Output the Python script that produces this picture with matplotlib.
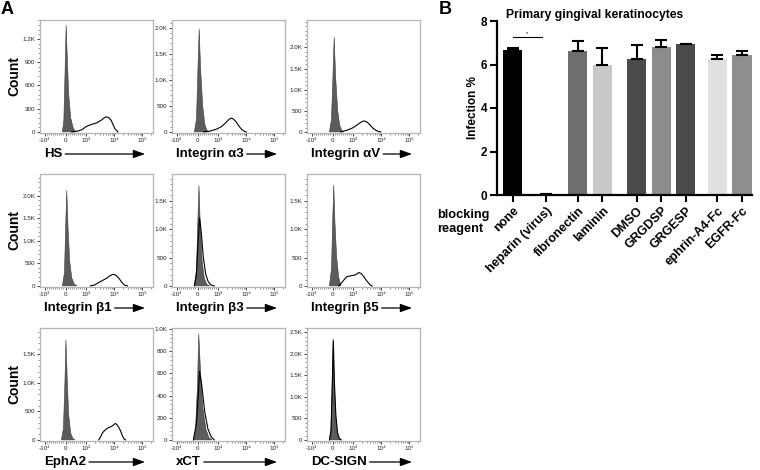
import numpy as np
import matplotlib.pyplot as plt
from matplotlib.ticker import FixedLocator, AutoMinorLocator

plt.rcParams['font.family'] = ['Liberation Sans', 'DejaVu Sans']

W, H = 760, 470

# ---------------- panel A data (fluorescence, count) ----------------
markers = ['HS', 'Integrin α3', 'Integrin αV',
           'Integrin β1', 'Integrin β3', 'Integrin β5',
           'EphA2', 'xCT', 'DC-SIGN']

hs_iso_x = [-150, -80, -20, 30, 80, 150, 250, 380, 500]
hs_iso_y = [0, 150, 800, 1380, 1000, 500, 180, 40, 0]
hs_x = [300, 600, 800, 1000, 1500, 2300, 3400, 4500, 5200, 6500, 7700, 9000, 10500, 13500]
hs_y = [0, 10, 30, 70, 95, 115, 150, 185, 195, 180, 150, 95, 40, 0]

a3_iso_x = [-150, -50, 20, 80, 150, 250, 350, 450, 550]
a3_iso_y = [0, 250, 1200, 1980, 1200, 500, 150, 30, 0]
a3_x = [300, 600, 900, 1300, 1800, 2400, 2900, 3500, 4500, 5500, 7000, 9000, 10000]
a3_y = [0, 15, 50, 100, 170, 240, 265, 245, 180, 110, 40, 5, 0]

av_iso_x = [-150, -50, 20, 80, 150, 250, 350, 450, 550]
av_iso_y = [0, 300, 1300, 2250, 1300, 500, 150, 30, 0]
av_x = [400, 700, 1000, 1400, 1900, 2400, 3000, 4000, 5000, 6500, 8000, 9500]
av_y = [0, 40, 100, 170, 230, 260, 240, 160, 90, 35, 8, 0]

b1_iso_x = [-150, -50, 20, 60, 120, 200, 300, 420, 550]
b1_iso_y = [0, 300, 1500, 2120, 1300, 550, 180, 40, 0]
b1_x = [1400, 2000, 2500, 3300, 4200, 5500, 7000, 9100, 11500, 14500, 18000, 22000, 26000, 29500]
b1_y = [0, 20, 60, 100, 135, 175, 225, 258, 235, 170, 90, 25, 5, 0]

b3_iso_x = [-150, -50, 20, 70, 130, 220, 330, 450, 580]
b3_iso_y = [0, 300, 1200, 1780, 1100, 450, 130, 25, 0]
b3_x = [-150, -50, 30, 100, 180, 280, 400, 520, 650, 800]
b3_y = [0, 200, 800, 1200, 950, 500, 200, 70, 15, 0]

b5_iso_x = [-150, -50, 20, 60, 120, 200, 300, 400]
b5_iso_y = [0, 300, 1300, 1785, 1100, 500, 150, 0]
b5_x = [300, 450, 550, 700, 900, 1100, 1380, 1580, 1900, 2360, 2900, 3560, 4100, 4700]
b5_y = [0, 60, 106, 165, 180, 190, 215, 236, 220, 165, 100, 47, 12, 0]

epha2_iso_x = [-200, -100, -30, 20, 80, 150, 250, 350, 450]
epha2_iso_y = [0, 200, 1000, 1760, 1100, 450, 120, 25, 0]
epha2_x = [2800, 3300, 3700, 4500, 5600, 7000, 8400, 9800, 11000, 12800, 14500, 17000, 19000, 22000, 25000]
epha2_y = [0, 60, 117, 165, 204, 225, 245, 270, 290, 260, 217, 150, 82, 20, 0]

xct_iso_x = [-200, -100, 0, 60, 150, 250, 400, 550, 700]
xct_iso_y = [0, 80, 500, 960, 600, 300, 100, 20, 0]
xct_x = [-200, -50, 50, 100, 200, 350, 500, 650, 800]
xct_y = [0, 150, 450, 620, 500, 250, 100, 30, 0]

dc_iso_x = [-150, -80, -20, 30, 80, 150, 230, 320, 400]
dc_iso_y = [0, 200, 1200, 2350, 1400, 600, 180, 30, 0]
dc_x = [-150, -70, -10, 40, 90, 160, 240, 330, 420]
dc_y = [0, 220, 1300, 2300, 1350, 580, 170, 30, 0]

count_max = [1445, 2150, 2650, 2480, 1980, 1980, 1965, 1011, 2600]
count_ticks = [[0, 300, 600, 900, 1200],
               [0, 500, 1000, 1500, 2000],
               [0, 500, 1000, 1500, 2000],
               [0, 500, 1000, 1500, 2000],
               [0, 500, 1000, 1500],
               [0, 500, 1000, 1500],
               [0, 500, 1000, 1500],
               [0, 200, 400, 600, 800, 1000],
               [0, 500, 1000, 1500, 2000, 2500]]

fl_ticks = [-1000, 0, 1000, 10000, 100000]
fl_labels = ['-10³', '0', '10³', '10⁴', '10⁵']

# ---------------- panel B data ----------------
reagents = ['none', 'heparin (virus)', 'fibronectin', 'laminin', 'DMSO',
            'GRGDSP', 'GRGESP', 'ephrin-A4-Fc', 'EGFR-Fc']
infection = [6.68, 0.04, 6.62, 5.99, 6.27, 6.80, 6.93, 6.24, 6.42]
infection_err = [0.06, 0.0, 0.46, 0.77, 0.63, 0.33, 0.03, 0.21, 0.20]

iso_curves = [(hs_iso_x, hs_iso_y), (a3_iso_x, a3_iso_y), (av_iso_x, av_iso_y),
              (b1_iso_x, b1_iso_y), (b3_iso_x, b3_iso_y), (b5_iso_x, b5_iso_y),
              (epha2_iso_x, epha2_iso_y), (xct_iso_x, xct_iso_y), (dc_iso_x, dc_iso_y)]
stain_curves = [(hs_x, hs_y), (a3_x, a3_y), (av_x, av_y),
                (b1_x, b1_y), (b3_x, b3_y), (b5_x, b5_y),
                (epha2_x, epha2_y), (xct_x, xct_y), (dc_x, dc_y)]


def fmt_count(v):
    if v >= 1000:
        return f'{v / 1000:.1f}K'
    return str(v)


fig = plt.figure(figsize=(W / 100, H / 100), dpi=100)


def px_axes(left, top, w, h):
    return fig.add_axes([left / W, 1 - (top + h) / H, w / W, h / H])


col_left = [40, 172, 307]
row_top = [20, 174, 328]
box = 113

minor_fl = ([-m * 1000 for m in range(2, 10)] + [-m * 100 for m in range(1, 10)]
            + [m * 100 for m in range(1, 10)]
            + [m * 10 ** k for k in (3, 4) for m in range(2, 10)] + [200000])

xlabels = []
for i in range(9):
    r, c = divmod(i, 3)
    ax = px_axes(col_left[c], row_top[r], box, box)
    ax.set_xscale('symlog', linthresh=1000, linscale=0.666)
    ix, iy = iso_curves[i]
    sx, sy = stain_curves[i]
    ax.fill(ix, iy, color='#5c5c5c', lw=0.4, ec='#3a3a3a', zorder=2)
    ax.plot(sx, sy, color='black', lw=0.8, zorder=3)
    ax.set_xlim(-1480, 240000)
    ax.set_ylim(-count_max[i] * 0.01, count_max[i])
    ax.set_xticks(fl_ticks)
    ax.set_xticklabels(fl_labels)
    ax.xaxis.set_minor_locator(FixedLocator(minor_fl))
    ax.set_yticks(count_ticks[i])
    ax.set_yticklabels([fmt_count(v) for v in count_ticks[i]])
    ax.yaxis.set_minor_locator(AutoMinorLocator(5))
    ax.tick_params(which='major', direction='out', length=2.5, width=0.6,
                   labelsize=4.5, pad=1.0, color='#222222', labelcolor='#222222')
    ax.tick_params(which='minor', direction='out', length=1.3, width=0.4, color='#444444')
    for s in ax.spines.values():
        s.set_color('#b5b5b5')
        s.set_linewidth(0.9)
    t = fig.text((col_left[c] + 4) / W, 1 - (row_top[r] + box + 21) / H, markers[i],
                 fontsize=9.5, fontweight='bold', ha='left', va='center')
    xlabels.append((t, col_left[c] + box - 8, row_top[r] + box + 21))

for r in range(3):
    fig.text(14 / W, 1 - (row_top[r] + box / 2) / H, 'Count', rotation=90,
             fontsize=10, fontweight='bold', ha='center', va='center')

fig.canvas.draw()
renderer = fig.canvas.get_renderer()
for t, x_end, y_px in xlabels:
    bb = t.get_window_extent(renderer)
    y = H - y_px
    fig.add_artist(plt.Annotation('', xy=(x_end, y), xytext=(bb.x1 + 3, y),
                                  xycoords='figure pixels', textcoords='figure pixels',
                                  arrowprops=dict(arrowstyle='-|>,head_length=0.7,head_width=0.25',
                                                  color='black', lw=0.9, shrinkA=0, shrinkB=0)))

fig.text(7 / W, 1 - 10 / H, 'A', fontsize=13, fontweight='bold', ha='center', va='center')
fig.text(445 / W, 1 - 10 / H, 'B', fontsize=13, fontweight='bold', ha='center', va='center')

# ---------------- panel B ----------------
bar_pos = [0, 1.35, 2.65, 3.65, 5.05, 6.05, 7.05, 8.35, 9.35]
bar_colors = ['#000000', '#303030', '#6e6e6e', '#c8c8c8', '#4a4a4a',
              '#8c8c8c', '#4a4a4a', '#e0e0e0', '#8e8e8e']

axb = px_axes(497, 21, 255, 174)
axb.bar(bar_pos, infection, width=0.78, color=bar_colors, zorder=2)
axb.errorbar(bar_pos, infection, yerr=[np.zeros(len(infection)), infection_err],
             fmt='none', ecolor='black', elinewidth=1.5, capsize=4, capthick=1.5, zorder=3)
axb.plot([bar_pos[0], bar_pos[1] - 0.17], [7.26, 7.26], color='black', lw=0.8)
axb.text((bar_pos[0] + bar_pos[1] - 0.17) / 2, 7.3, '*', fontsize=4, ha='center', va='bottom')
axb.set_xlim(-0.65, 9.76)
axb.set_ylim(0, 8)
axb.set_yticks([0, 2, 4, 6, 8])
axb.set_xticks(bar_pos)
axb.set_xticklabels(reagents, rotation=45, ha='right', rotation_mode='anchor',
                    fontweight='bold', fontsize=9)
for lab in axb.get_yticklabels():
    lab.set_fontweight('bold')
axb.tick_params(axis='both', direction='out', length=5, width=1.5, labelsize=8.5, pad=2)
axb.tick_params(axis='x', labelsize=9, pad=2)
for s in ['top', 'right']:
    axb.spines[s].set_visible(False)
for s in ['left', 'bottom']:
    axb.spines[s].set_linewidth(1.6)
axb.set_ylabel('Infection %', fontsize=8.5, fontweight='bold', labelpad=1)
fig.text(595 / W, 1 - 15 / H, 'Primary gingival keratinocytes', fontsize=8.7,
         fontweight='bold', ha='center', va='center')
fig.text(437 / W, 1 - 222 / H, 'blocking\nreagent', fontsize=9.2, fontweight='bold',
         ha='left', va='center', linespacing=1.3)

fig.savefig('out.png', dpi=100)
